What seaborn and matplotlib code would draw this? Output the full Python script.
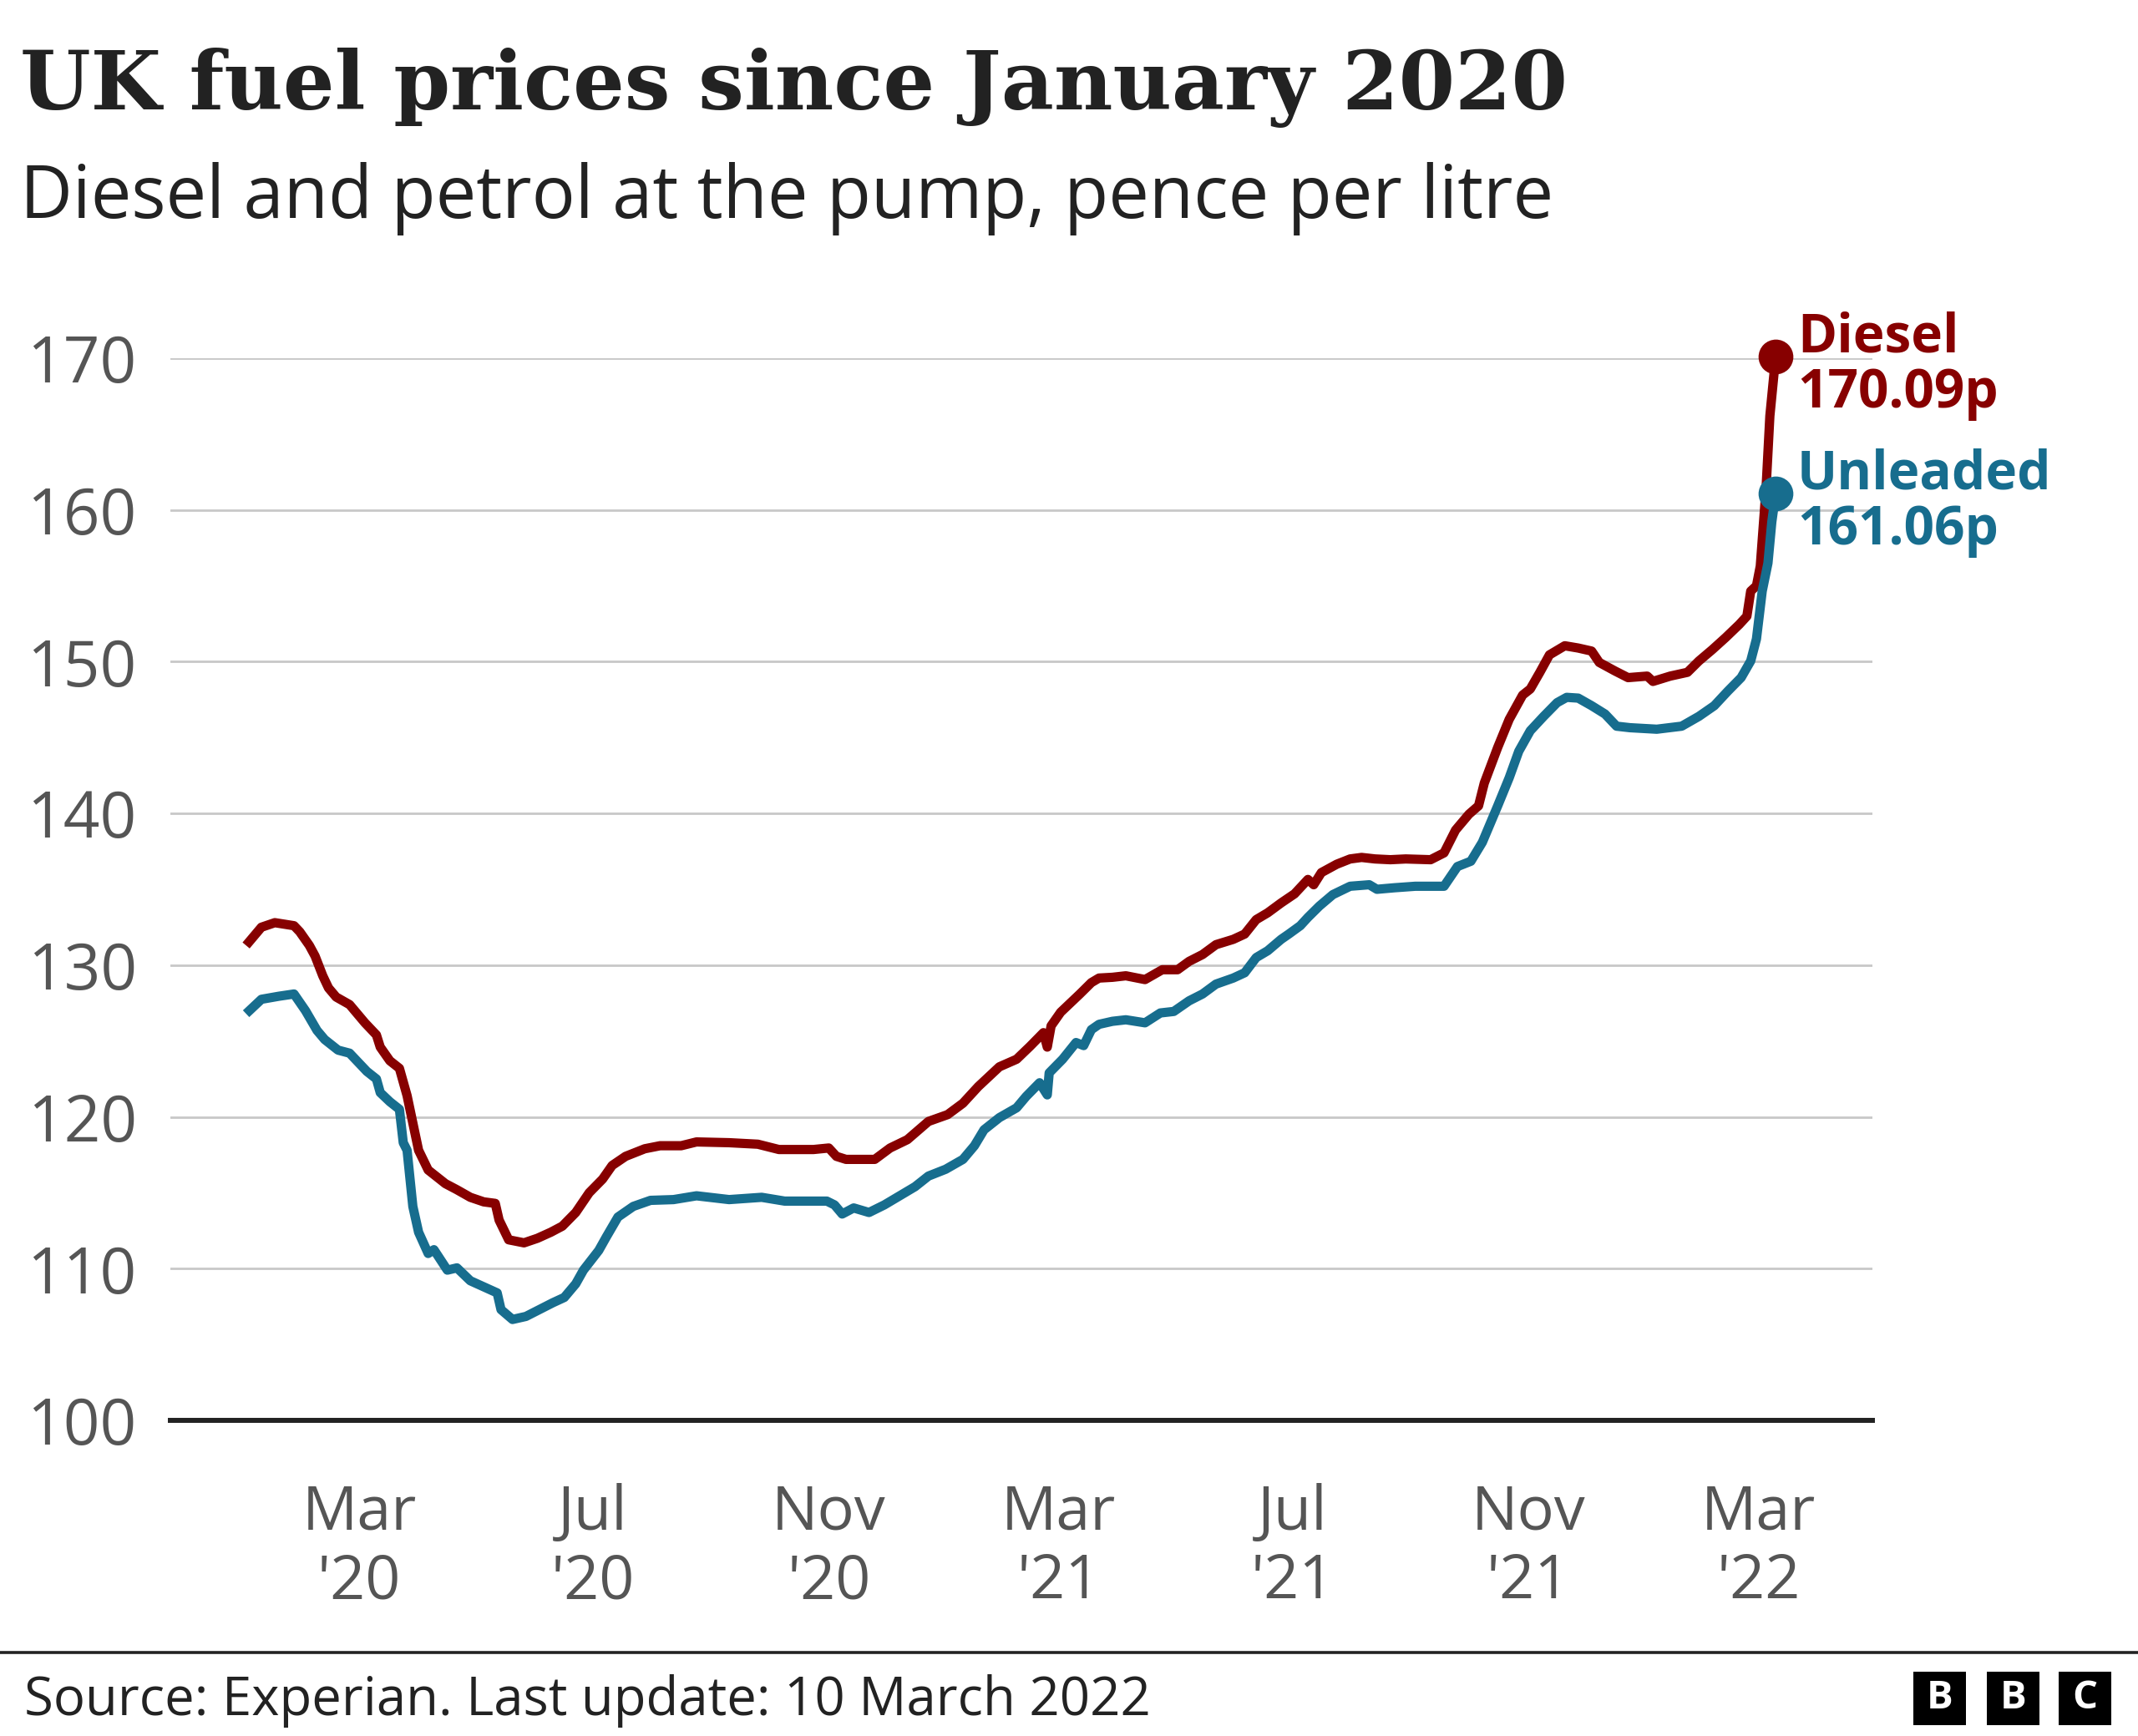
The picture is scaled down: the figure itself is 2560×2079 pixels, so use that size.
import matplotlib
matplotlib.use("Agg")
import matplotlib.pyplot as plt
import matplotlib.patches as mpatches
import pandas as pd
import seaborn as sns

# ---------------- data ----------------
diesel_dates = [
    "2020-01-02", "2020-01-10", "2020-01-17", "2020-01-27", "2020-01-30", "2020-02-04", "2020-02-07", "2020-02-11", "2020-02-14", "2020-02-18", "2020-02-25",
    "2020-03-04", "2020-03-10", "2020-03-12", "2020-03-17", "2020-03-22", "2020-03-26", "2020-03-29", "2020-04-01", "2020-04-06", "2020-04-15", "2020-04-21", "2020-04-28",
    "2020-05-05", "2020-05-11", "2020-05-13", "2020-05-18", "2020-05-26", "2020-06-02", "2020-06-09", "2020-06-15", "2020-06-22", "2020-06-29",
    "2020-07-06", "2020-07-11", "2020-07-18", "2020-07-28", "2020-08-05", "2020-08-16", "2020-08-24", "2020-09-10", "2020-09-25", "2020-10-06", "2020-10-24",
    "2020-11-01", "2020-11-05", "2020-11-10", "2020-11-25", "2020-12-03", "2020-12-12", "2020-12-23",
    "2021-01-02", "2021-01-10", "2021-01-18", "2021-01-29", "2021-02-07", "2021-02-14", "2021-02-21", "2021-02-23", "2021-02-25",
    "2021-03-02", "2021-03-07", "2021-03-12", "2021-03-18", "2021-03-22", "2021-03-29", "2021-04-05", "2021-04-15", "2021-04-24", "2021-05-02", "2021-05-08", "2021-05-15", "2021-05-22", "2021-05-31",
    "2021-06-06", "2021-06-12", "2021-06-18", "2021-06-25", "2021-07-02", "2021-07-09", "2021-07-12", "2021-07-16", "2021-07-24", "2021-07-31",
    "2021-08-06", "2021-08-13", "2021-08-21", "2021-08-29", "2021-09-11", "2021-09-18", "2021-09-24", "2021-10-01", "2021-10-06", "2021-10-09", "2021-10-16", "2021-10-22", "2021-10-29",
    "2021-11-02", "2021-11-07", "2021-11-12", "2021-11-20", "2021-11-27", "2021-12-04", "2021-12-08", "2021-12-16", "2021-12-23",
    "2022-01-02", "2022-01-05", "2022-01-14", "2022-01-23", "2022-01-29", "2022-02-05", "2022-02-12", "2022-02-19", "2022-02-23", "2022-02-25", "2022-02-28",
    "2022-03-02", "2022-03-05", "2022-03-07", "2022-03-10"]
diesel_values = [
    131.3, 132.5, 132.8, 132.6, 132.2, 131.3, 130.6, 129.3, 128.5, 127.9, 127.4,
    126.2, 125.4, 124.6, 123.7, 123.2, 121.4, 119.6, 117.8, 116.5, 115.6, 115.2, 114.7,
    114.4, 114.3, 113.2, 111.9, 111.7, 112.0, 112.4, 112.8, 113.7, 115.0,
    115.9, 116.8, 117.4, 117.9, 118.1, 118.1, 118.35, 118.3, 118.2, 117.85, 117.85,
    117.95, 117.4, 117.2, 117.2, 117.95, 118.5, 119.7,
    120.15, 120.9, 122.0, 123.3, 123.8, 124.65, 125.55, 124.6, 126.0,
    126.9, 127.5, 128.1, 128.85, 129.15, 129.2, 129.3, 129.05, 129.7, 129.7, 130.25, 130.7, 131.35, 131.7,
    132.05, 133.0, 133.45, 134.1, 134.7, 135.65, 135.3, 136.1, 136.65, 137.0,
    137.1, 137.0, 136.95, 137.0, 136.95, 137.4, 138.9, 139.95, 140.5, 142.0, 144.35, 146.2, 147.8,
    148.2, 149.3, 150.45, 151.05, 150.9, 150.7, 149.95, 149.4, 148.95,
    149.05, 148.7, 149.05, 149.3, 150.05, 150.8, 151.6, 152.45, 153.0, 154.65, 155.0,
    156.3, 161.4, 166.2, 170.09]

unleaded_dates = [
    "2020-01-02", "2020-01-10", "2020-01-19", "2020-01-27", "2020-02-02", "2020-02-08", "2020-02-12", "2020-02-19", "2020-02-25",
    "2020-03-05", "2020-03-10", "2020-03-12", "2020-03-17", "2020-03-22", "2020-03-24", "2020-03-26", "2020-03-29", "2020-04-01", "2020-04-06", "2020-04-09", "2020-04-16", "2020-04-21", "2020-04-28",
    "2020-05-05", "2020-05-12", "2020-05-14", "2020-05-20", "2020-05-27", "2020-06-03", "2020-06-10", "2020-06-16", "2020-06-22", "2020-06-26",
    "2020-07-04", "2020-07-08", "2020-07-14", "2020-07-22", "2020-07-31", "2020-08-12", "2020-08-24", "2020-09-10", "2020-09-27", "2020-10-09", "2020-10-31",
    "2020-11-04", "2020-11-08", "2020-11-14", "2020-11-22", "2020-11-30", "2020-12-06", "2020-12-16", "2020-12-23",
    "2021-01-01", "2021-01-10", "2021-01-16", "2021-01-21", "2021-01-29", "2021-02-07", "2021-02-12", "2021-02-19", "2021-02-23", "2021-02-24",
    "2021-03-03", "2021-03-10", "2021-03-14", "2021-03-18", "2021-03-22", "2021-03-29", "2021-04-05", "2021-04-15", "2021-04-23", "2021-04-30", "2021-05-08", "2021-05-15", "2021-05-22", "2021-05-31",
    "2021-06-06", "2021-06-12", "2021-06-18", "2021-06-25", "2021-06-29", "2021-07-05", "2021-07-09", "2021-07-15", "2021-07-22", "2021-07-31",
    "2021-08-10", "2021-08-14", "2021-08-23", "2021-09-03", "2021-09-18", "2021-09-25", "2021-10-02", "2021-10-08", "2021-10-16", "2021-10-22", "2021-10-27",
    "2021-11-02", "2021-11-09", "2021-11-16", "2021-11-21", "2021-11-27", "2021-12-04", "2021-12-11", "2021-12-17", "2021-12-24",
    "2022-01-07", "2022-01-20", "2022-01-29", "2022-02-06", "2022-02-13", "2022-02-20", "2022-02-25", "2022-02-28",
    "2022-03-03", "2022-03-06", "2022-03-08", "2022-03-10"]
unleaded_values = [
    126.8, 127.75, 127.95, 128.1, 127.0, 125.7, 125.1, 124.4, 124.2,
    123.0, 122.5, 121.6, 121.0, 120.5, 118.3, 117.8, 114.1, 112.4, 111.0, 111.25, 109.9, 110.05, 109.2,
    108.8, 108.4, 107.3, 106.65, 106.85, 107.3, 107.75, 108.1, 109.0, 109.9,
    111.2, 112.1, 113.4, 114.1, 114.5, 114.55, 114.8, 114.55, 114.7, 114.45, 114.45,
    114.2, 113.6, 114.0, 113.7, 114.2, 114.65, 115.4, 116.1,
    116.55, 117.2, 118.1, 119.15, 119.95, 120.6, 121.35, 122.25, 121.45, 122.9,
    123.8, 124.9, 124.7, 125.75, 126.1, 126.3, 126.4, 126.2, 126.85, 126.95, 127.65, 128.1, 128.75, 129.15,
    129.5, 130.5, 130.95, 131.7, 132.05, 132.6, 133.15, 133.9, 134.65, 135.2,
    135.3, 135.0, 135.1, 135.2, 135.2, 136.5, 136.85, 138.1, 140.5, 142.35, 144.1,
    145.45, 146.4, 147.3, 147.65, 147.6, 147.1, 146.55, 145.75, 145.65,
    145.55, 145.75, 146.4, 147.1, 148.05, 148.95, 150.05, 151.5,
    154.65, 156.5, 159.2, 161.06]

series_names = ["Diesel", "Unleaded"]
end_labels = ["170.09p", "161.06p"]
x_tick_dates = ["2020-03-01", "2020-07-01", "2020-11-01", "2021-03-01", "2021-07-01", "2021-11-01", "2022-03-01"]
x_tick_labels = ["Mar\n'20", "Jul\n'20", "Nov\n'20", "Mar\n'21", "Jul\n'21", "Nov\n'21", "Mar\n'22"]
y_ticks = [100, 110, 120, 130, 140, 150, 160, 170]
title = "UK fuel prices since January 2020"
subtitle = "Diesel and petrol at the pump, pence per litre"
source = "Source: Experian. Last update: 10 March 2022"

# ---------------- styling ----------------
DIESEL = "#870000"
UNLEADED = "#176d8e"
palette = {"Diesel": DIESEL, "Unleaded": UNLEADED}

sns.set_theme(style="white")
plt.rcParams["font.family"] = ["Open Sans", "DejaVu Sans"]

W, H = 2560, 2079
fig = plt.figure(figsize=(W / 100, H / 100), dpi=100)
fig.patch.set_facecolor("white")

def fx(px):
    return px / W

def fy(py):
    return 1 - py / H

ax_left, ax_right, ax_top, ax_bottom = 204, 2242, 429, 1701
ax = fig.add_axes([fx(ax_left), fy(ax_bottom), (ax_right - ax_left) / W, (ax_bottom - ax_top) / H])
ax.set_facecolor("white")

df = pd.concat([
    pd.DataFrame({"date": pd.to_datetime(diesel_dates), "price": diesel_values, "fuel": "Diesel"}),
    pd.DataFrame({"date": pd.to_datetime(unleaded_dates), "price": unleaded_values, "fuel": "Unleaded"}),
], ignore_index=True)

sns.lineplot(data=df, x="date", y="price", hue="fuel", hue_order=series_names,
             palette=palette, linewidth=8.0, estimator=None, legend=False, ax=ax)
for ln in ax.lines:
    ln.set_solid_joinstyle("round")
    ln.set_solid_capstyle("butt")
    ln.set_clip_on(False)
    ln.set_zorder(3)

# end markers
last = df.groupby("fuel").tail(1)
for _, row in last.iterrows():
    ax.scatter([row["date"]], [row["price"]], s=900, color=palette[row["fuel"]],
               zorder=4, clip_on=False, linewidths=0)

ax.set_xlim(pd.Timestamp("2019-11-23 12:00"), pd.Timestamp("2022-04-29 12:00"))
ax.set_ylim(100, 170)
ax.set_yticks(y_ticks)
ax.set_yticklabels([str(v) for v in y_ticks])
ax.set_xticks(pd.to_datetime(x_tick_dates))
ax.set_xticklabels(x_tick_labels, linespacing=1.15)
ax.set_xlabel("")
ax.set_ylabel("")

ax.yaxis.grid(True, color="#c8c8c8", linewidth=2.0)
ax.xaxis.grid(False)
ax.set_axisbelow(True)
for s in ["top", "right", "left"]:
    ax.spines[s].set_visible(False)
ax.spines["bottom"].set_color("#222222")
ax.spines["bottom"].set_linewidth(4.3)
ax.spines["bottom"].set_zorder(2)

ax.tick_params(axis="y", length=0, pad=29, labelsize=55, labelcolor="#555555")
ax.tick_params(axis="x", length=24, width=1.3, color="#333333", direction="out",
               pad=30, labelsize=53, labelcolor="#555555")

# ---------------- texts ----------------
renderer = fig.canvas.get_renderer()

def fit(t, target_w):
    w = t.get_window_extent(renderer).width
    t.set_fontsize(t.get_fontsize() * target_w / w)

t_title = fig.text(fx(24), fy(131), title, fontsize=70, fontweight="bold",
                   family=["DejaVu Serif"], color="#222222", va="baseline", ha="left")
fit(t_title, 1854)
t_sub = fig.text(fx(24), fy(261), subtitle, fontsize=44, color="#222222",
                 va="baseline", ha="left")
fit(t_sub, 1837)

# end labels
lab_x = 2152
lab_specs = [(series_names[0], end_labels[0], 421, 488, DIESEL),
             (series_names[1], end_labels[1], 586, 652, UNLEADED)]
probe = fig.text(0, 0, series_names[1], fontsize=36, fontweight="bold")
fit(probe, 305)
lab_fs = probe.get_fontsize()
probe.remove()
for name, val, y1, y2, col in lab_specs:
    fig.text(fx(lab_x), fy(y1), name, fontsize=lab_fs, fontweight="bold", color=col,
             va="baseline", ha="left")
    fig.text(fx(lab_x), fy(y2), val, fontsize=lab_fs, fontweight="bold", color=col,
             va="baseline", ha="left")

# footer
fig.add_artist(plt.Line2D([0, 1], [fy(1979), fy(1979)], color="#222222", linewidth=2.6,
                          transform=fig.transFigure))
t_src = fig.text(fx(29), fy(2054), source, fontsize=34, color="#222222",
                 va="baseline", ha="left")
fit(t_src, 1351)

# BBC blocks
for x0, letter in [(2291, "B"), (2379, "B"), (2465, "C")]:
    fig.add_artist(mpatches.Rectangle((fx(x0), fy(2066)), 63 / W, 64 / H,
                                      transform=fig.transFigure, facecolor="black",
                                      edgecolor="none"))
    fig.text(fx(x0 + 31.5), fy(2034), letter, fontsize=34, fontweight="bold",
             color="white", ha="center", va="center")

fig.savefig("out.png", dpi=100, facecolor="white")
